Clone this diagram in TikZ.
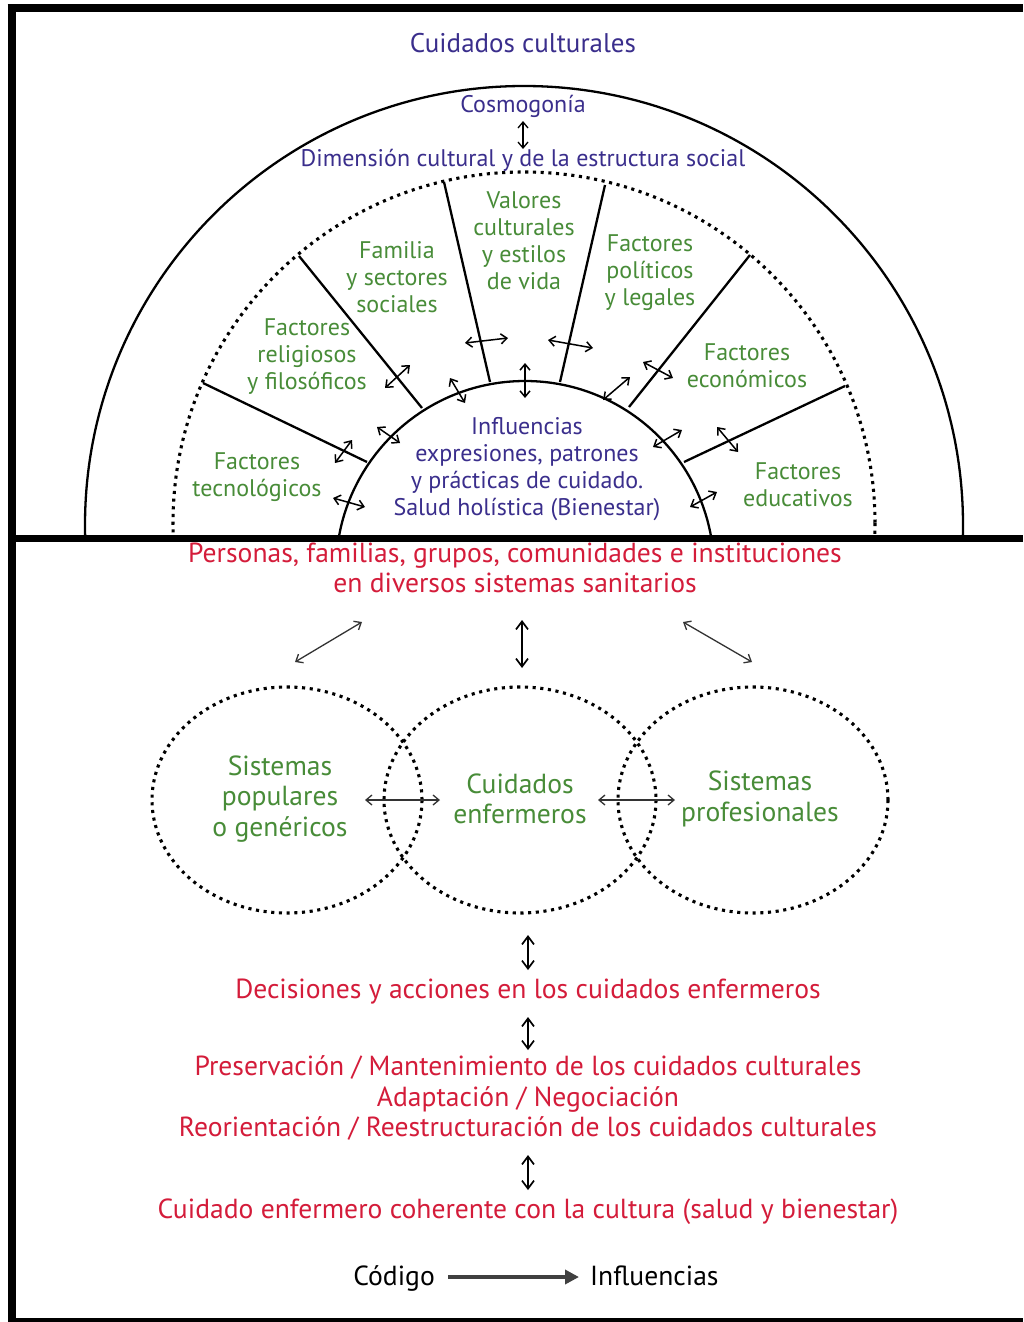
\documentclass[tikz,border=0pt]{standalone}
\usepackage{fontspec}
\setmainfont{PT Sans}
\usetikzlibrary{arrows.meta}
\definecolor{cblue}{RGB}{58,46,140}
\definecolor{cgreen}{RGB}{72,140,56}
\definecolor{cred}{RGB}{212,28,58}
\tikzset{
  smalltxt/.style={font=\fontsize{24}{27}\selectfont, align=center, inner sep=0pt},
  bigtxt/.style={font=\fontsize{27.6}{30.5}\selectfont, align=center, inner sep=0pt},
  dbl/.style={{Straight Barb[length=6pt,width=10pt]}-{Straight Barb[length=6pt,width=10pt]}, line width=1.5pt},
  thindbl/.style={{Straight Barb[length=6pt,width=10pt]}-{Straight Barb[length=6pt,width=10pt]}, line width=1.3pt, black!80},
  bigdbl/.style={{Straight Barb[length=8pt,width=12pt]}-{Straight Barb[length=8pt,width=12pt]}, line width=1.7pt},
  framebar/.style={line width=8pt},
  spoke/.style={line width=2.3pt},
  dotline/.style={line width=3.1pt, dash pattern=on 3.1pt off 4.6pt, line cap=butt},
}
\begin{document}
\begin{tikzpicture}[x=1pt,y=-1pt]
\useasboundingbox (0,0) rectangle (1023,1322);
\fill[white] (0,0) rectangle (1023,1322);

% arcs, clipped to the upper panel
\begin{scope}
  \clip (15,12) rectangle (1023,538);
  \draw[line width=2.3pt] (524,525) circle[radius=439];
  \draw[dotline] (524,523) circle[radius=351];
  \draw[line width=2.3pt] (525,570) circle[radius=189];
\end{scope}

% spokes
\draw[spoke] (203,383) -- (367,462);
\draw[spoke] (299,256) -- (422,408);
\draw[spoke] (444,182) -- (490,382);
\draw[spoke] (605,185) -- (560,382);
\draw[spoke] (750,255) -- (629,407);
\draw[spoke] (845,386) -- (684,462);

% frame
\draw[framebar] (7.5,8.5) -- (1023,8.5);
\draw[framebar] (11.5,4.5) -- (11.5,1322);
\draw[line width=7pt] (11.5,538) -- (1023,538);
\draw[line width=6pt] (11.5,1321) -- (1023,1321);

% top texts
\node[smalltxt, cblue, font=\fontsize{27}{30}\selectfont] (cc) at (523,43) {Cuidados culturales};
\node[smalltxt, cblue] (cosmo) at (523,106) {Cosmogonía};
\node[smalltxt, cblue] (dim) at (523,160) {Dimensión cultural y de la estructura social};
\draw[dbl, line width=1.3pt] (523,121) -- (523,149);

\node[smalltxt, cgreen] (valores) at (524,241) {Valores\\culturales\\y estilos\\de vida};
\node[smalltxt, cgreen] (familia) at (397,277) {Familia\\y sectores\\sociales};
\node[smalltxt, cgreen] (relig) at (307,357) {Factores\\religiosos\\y filosóficos};
\node[smalltxt, cgreen] (tecno) at (257,477) {Factores\\tecnológicos};
\node[smalltxt, cgreen] (polit) at (650,273) {Factores\\políticos\\y legales};
\node[smalltxt, cgreen] (econ) at (747,366) {Factores\\económicos};
\node[smalltxt, cgreen] (educ) at (798,485) {Factores\\educativos};
\node[smalltxt, cblue] (influ) at (527,469) {Influencias\\expresiones, patrones\\y prácticas de cuidado.\\Salud holística (Bienestar)};

% small double arrows in the upper panel
\draw[dbl] (465,343) -- (508,338);
\draw[dbl] (525,363) -- (525,398);
\draw[dbl] (450,378) -- (465,403);
\draw[dbl] (385,388) -- (410,365);
\draw[dbl] (377,427) -- (400,443);
\draw[dbl] (335,463) -- (352,440);
\draw[dbl] (333,498) -- (365,507);
\draw[dbl] (548,340) -- (593,348);
\draw[dbl] (603,400) -- (630,377);
\draw[dbl] (643,362) -- (673,378);
\draw[dbl] (653,447) -- (682,430);
\draw[dbl] (717,427) -- (738,452);
\draw[dbl] (690,507) -- (717,492);

% lower panel
\node[bigtxt, cred] (pers) at (515,568) {Personas, familias, grupos, comunidades e instituciones\\en diversos sistemas sanitarios};
\draw[thindbl] (295,662) -- (362,622);
\draw[bigdbl] (522,620) -- (522,668);
\draw[thindbl] (683,622) -- (752,662);

\draw[dotline] (287,800) ellipse[x radius=135, y radius=113];
\draw[dotline] (520,800) ellipse[x radius=136, y radius=113];
\draw[dotline] (753,800) ellipse[x radius=135, y radius=113];

\node[bigtxt, cgreen] (popul) at (280,799) {Sistemas\\populares\\o genéricos};
\node[bigtxt, cgreen] (cenf) at (520,799) {Cuidados\\enfermeros};
\node[bigtxt, cgreen] (prof) at (760,799) {Sistemas\\profesionales};
\draw[thindbl] (365,800) -- (440,800);
\draw[thindbl] (598,800) -- (675,800);

\draw[bigdbl] (528,935) -- (528,970);
\node[bigtxt, cred] (decis) at (528,992) {Decisiones y acciones en los cuidados enfermeros};
\draw[bigdbl] (528,1017) -- (528,1050);
\node[bigtxt, cred] (pres) at (528,1098) {Preservación / Mantenimiento de los cuidados culturales\\Adaptación / Negociación\\Reorientación / Reestructuración de los cuidados culturales};
\draw[bigdbl] (528,1155) -- (528,1190);
\node[bigtxt, cred] (coher) at (528,1212) {Cuidado enfermero coherente con la cultura (salud y bienestar)};

% legend
\node[bigtxt, black, anchor=base east] (cod) at (435,1285) {Código};
\node[bigtxt, black, anchor=base west] (inf) at (590,1285) {Influencias};
\coordinate (legA) at (448,1277);
\coordinate (legB) at (579,1277);
\draw[line width=3.5pt, black!75, -{Triangle[length=14pt,width=14pt]}] (legA) -- (legB);
\end{tikzpicture}
\end{document}
